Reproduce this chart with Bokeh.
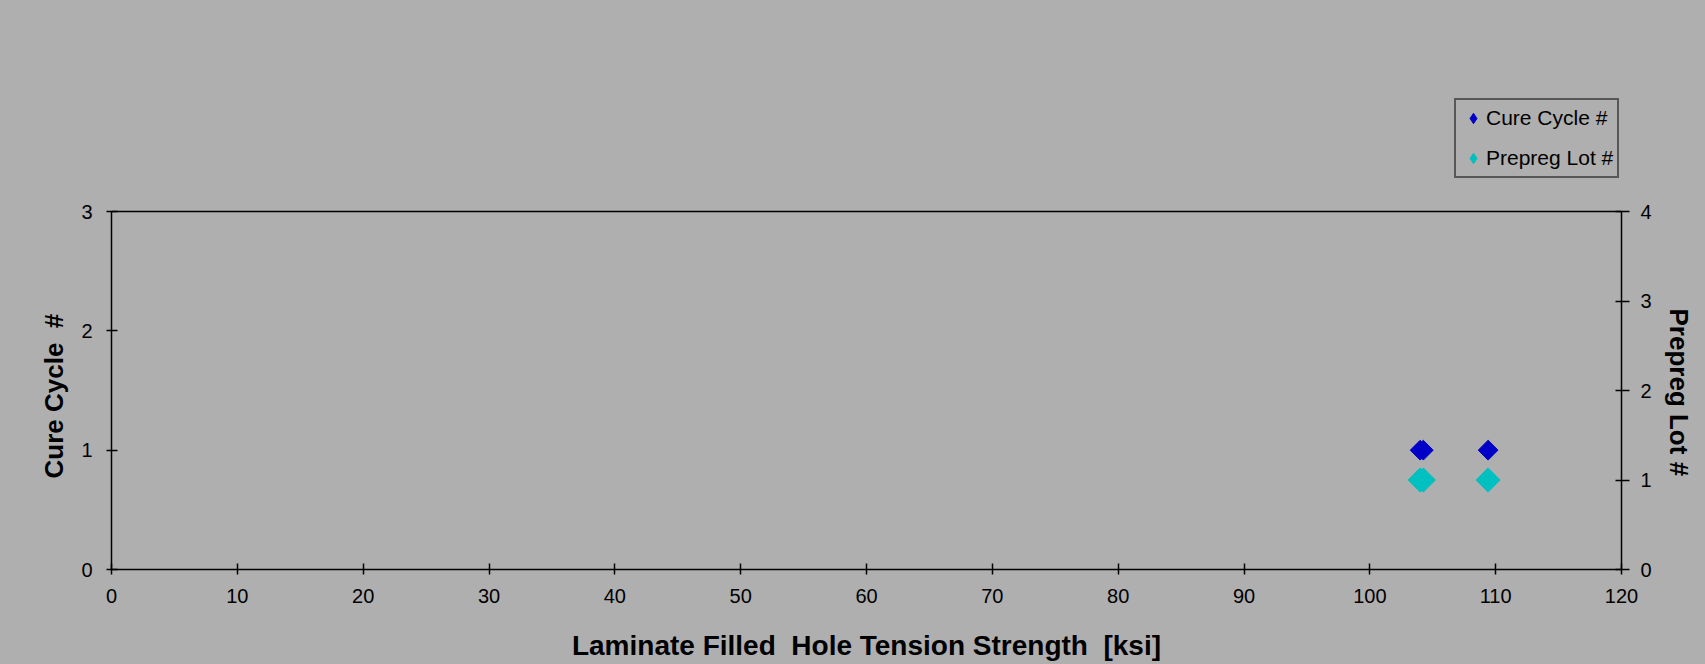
import math
from bokeh.plotting import figure
from bokeh.models import (Range1d, LinearAxis, FixedTicker, Legend, LegendItem,
                          Span, Title, InlineStyleSheet)
from bokeh.embed import file_html
from bokeh.resources import INLINE

# ---- data ----
cure_x = [104.0, 104.25, 109.4]
cure_y = [1, 1, 1]
lot_x = [104.0, 104.25, 109.4]
lot_y = [1, 1, 1]
x_ticks = [0, 10, 20, 30, 40, 50, 60, 70, 80, 90, 100, 110, 120]
left_ticks = [0, 1, 2, 3]
right_ticks = [0, 1, 2, 3, 4]

BG = "#AFAFAF"
BLUE = "#0000C8"
CYAN = "#00C0C0"
FONT = "Liberation Sans"
NB = "\u00a0"

# frame extends above the plotted area to host the legend
W, H = 1705, 664
LEFT, RIGHT = 111, 1623
TOP, AX_TOP, BOTTOM = 85, 211, 569
ext = (BOTTOM - TOP) / (BOTTOM - AX_TOP)

p = figure(width=W, height=H, output_backend="svg", toolbar_location=None,
           x_range=Range1d(0, 120), y_range=Range1d(0, 3 * ext),
           min_border_left=LEFT, min_border_right=W - RIGHT,
           min_border_top=TOP, min_border_bottom=H - BOTTOM)
p.stylesheets = [InlineStyleSheet(css=":host { background-color: #AFAFAF; }")]
p.extra_y_ranges = {"lot": Range1d(0, 4 * ext)}
p.background_fill_color = BG
p.border_fill_color = BG
p.outline_line_color = None
p.xgrid.visible = False
p.ygrid.visible = False

right = LinearAxis(y_range_name="lot")
p.add_layout(right, "right")

p.xaxis.axis_label = "Laminate Filled " + NB + "Hole Tension Strength " + NB + "[ksi]"

p.xaxis.ticker = FixedTicker(ticks=x_ticks)
p.yaxis[0].ticker = FixedTicker(ticks=left_ticks)
right.ticker = FixedTicker(ticks=right_ticks)
p.yaxis[0].bounds = (0, 3)
right.bounds = (0, 4)

for ax in [p.xaxis[0], p.yaxis[0], right]:
    ax.axis_line_color = "black"
    ax.axis_line_width = 1.5
    ax.major_tick_line_color = "black"
    ax.major_tick_line_width = 1.5
    ax.minor_tick_line_color = None
    ax.major_tick_in = 6
    ax.major_tick_out = 5
    ax.major_label_text_font = FONT
    ax.major_label_text_font_size = "20px"
    ax.major_label_text_color = "black"
    ax.axis_label_text_font = FONT
    ax.axis_label_text_font_size = "28px"
    ax.axis_label_text_font_style = "bold"
    ax.axis_label_text_color = "black"

p.xaxis[0].major_label_standoff = 14
p.xaxis[0].axis_label_standoff = 24
p.yaxis[0].major_label_standoff = 14
right.major_tick_out = 8
right.major_label_standoff = 11

# vertical axis titles, centred on the 0..3 / 0..4 span of the axes
left_title = Title(text="Cure Cycle " + NB + "#", align="left", offset=91,
                   standoff=20, text_font=FONT, text_font_size="26px",
                   text_font_style="bold", text_color="black")
right_title = Title(text="Prepreg Lot #", align="left", offset=223,
                    standoff=19, text_font=FONT, text_font_size="26px",
                    text_font_style="bold", text_color="black")
p.add_layout(left_title, "left")
p.add_layout(right_title, "right")

# top border line of the plot area
p.add_layout(Span(location=3, dimension="width", line_color="black", line_width=1.5))

r1 = p.scatter(cure_x, cure_y, marker="square", size=14, angle=math.pi / 4,
               fill_color=BLUE, line_color=BLUE)
r2 = p.scatter(lot_x, lot_y, y_range_name="lot", marker="square", size=17,
               angle=math.pi / 4, fill_color=CYAN, line_color=CYAN)
# diamond swatches for the legend (drawn hidden inside the points above)
k1 = p.scatter(cure_x, cure_y, marker="diamond", size=10,
               fill_color=BLUE, line_color=BLUE)
k2 = p.scatter(lot_x, lot_y, y_range_name="lot", marker="diamond", size=10,
               fill_color=CYAN, line_color=CYAN)

legend = Legend(items=[LegendItem(label="Cure Cycle #", renderers=[k1]),
                       LegendItem(label="Prepreg Lot #", renderers=[k2])],
                location=(1454 - LEFT, BOTTOM - 178))
legend.background_fill_color = BG
legend.background_fill_alpha = 1
legend.border_line_color = "black"
legend.border_line_width = 2
legend.label_text_font = FONT
legend.label_text_font_size = "21px"
legend.label_text_color = "black"
legend.padding = 4
legend.spacing = 12
legend.glyph_width = 26
legend.glyph_height = 28
legend.label_height = 28
legend.label_standoff = 0
legend.margin = 0
p.add_layout(legend)

open("out.html", "w").write(file_html(p, INLINE))
